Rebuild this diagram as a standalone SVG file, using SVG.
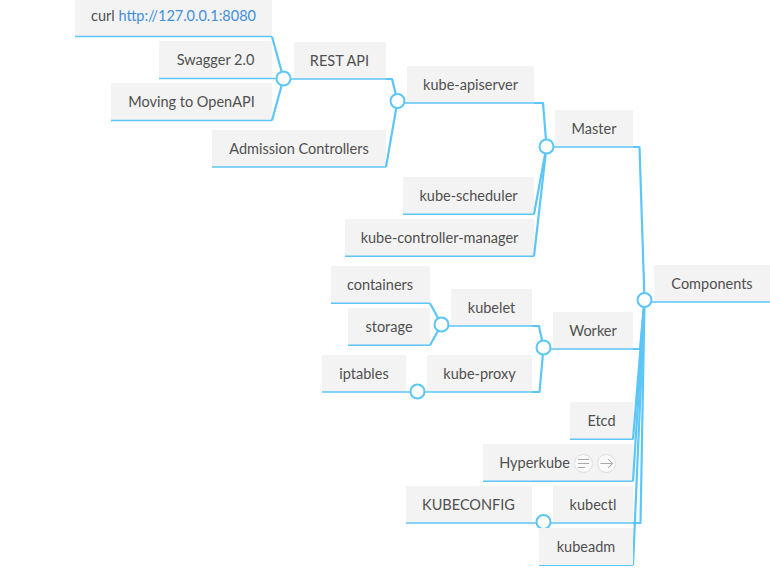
<svg xmlns="http://www.w3.org/2000/svg" width="770" height="568" viewBox="0 0 770 568">
<style>
rect.b{fill:#f3f3f3}
text{font-family:"Lato","Open Sans","Liberation Sans",sans-serif;font-size:14.5px;fill:#505050;text-anchor:middle}
.c path{fill:none;stroke:#5cc6f7;stroke-width:1.5;stroke-linejoin:round}
.c path.s{stroke-width:2.2}
.k{fill:#fff;stroke:#5cc6f7;stroke-width:2}
.i{fill:#fafafa;stroke:#dedede;stroke-width:1}
.g{fill:none;stroke:#a8a8a8;stroke-width:1}
</style>
<g id="node-curl"><rect class="b" x="75" y="0" width="197" height="36"/><text x="173.500" y="21">curl <tspan fill="#3f8fdc">http://127.0.0.1:8080</tspan></text></g>
<g id="node-swagger"><rect class="b" x="159" y="41" width="113" height="37"/><text x="215.500" y="65">Swagger 2.0</text></g>
<g id="node-openapi"><rect class="b" x="111" y="83" width="161" height="37"/><text x="191.500" y="107">Moving to OpenAPI</text></g>
<g id="node-restapi"><rect class="b" x="294" y="42" width="92" height="37"/><text x="339.500" y="66">REST API</text></g>
<g id="node-admission"><rect class="b" x="212" y="130" width="174" height="37"/><text x="299" y="154">Admission Controllers</text></g>
<g id="node-apiserver"><rect class="b" x="407" y="66" width="127" height="37"/><text x="470.500" y="90">kube-apiserver</text></g>
<g id="node-master"><rect class="b" x="555" y="110" width="78" height="37"/><text x="594" y="134">Master</text></g>
<g id="node-scheduler"><rect class="b" x="403" y="177" width="131" height="37"/><text x="468.500" y="201">kube-scheduler</text></g>
<g id="node-controller"><rect class="b" x="345" y="219" width="189" height="37"/><text x="439.500" y="243">kube-controller-manager</text></g>
<g id="node-components"><rect class="b" x="654" y="265" width="116" height="37"/><text x="712" y="289">Components</text></g>
<g id="node-containers"><rect class="b" x="331" y="266" width="99" height="37"/><text x="380" y="290">containers</text></g>
<g id="node-storage"><rect class="b" x="348" y="308" width="82" height="37"/><text x="389" y="332">storage</text></g>
<g id="node-kubelet"><rect class="b" x="451" y="289" width="81" height="37"/><text x="491.500" y="313">kubelet</text></g>
<g id="node-worker"><rect class="b" x="553" y="312" width="80" height="37"/><text x="593" y="336">Worker</text></g>
<g id="node-iptables"><rect class="b" x="322" y="355" width="84" height="37"/><text x="364" y="379">iptables</text></g>
<g id="node-proxy"><rect class="b" x="427" y="355" width="105" height="37"/><text x="479.500" y="379">kube-proxy</text></g>
<g id="node-etcd"><rect class="b" x="570" y="402" width="63" height="37"/><text x="601.500" y="426">Etcd</text></g>
<g id="node-hyperkube"><rect class="b" x="483" y="444" width="150" height="37"/><text x="534.500" y="468">Hyperkube</text>
<circle class="i" cx="583.500" cy="463.500" r="9"/><path class="g" d="M578 459.500h11M578 463.500h11M578 467.500h7"/>
<circle class="i" cx="606.500" cy="463.500" r="9"/><path class="g" d="M600.500 463.500h12M608 459l4.500 4.500-4.500 4.500"/></g>
<g id="node-kubeconfig"><rect class="b" x="406" y="486" width="126" height="37"/><text x="468.500" y="510">KUBECONFIG</text></g>
<g id="node-kubectl"><rect class="b" x="553" y="486" width="80" height="37"/><text x="593" y="510">kubectl</text></g>
<g id="connectors" class="c">
<path d="M75 36.500H272"/><path class="s" d="M272 36.500L283.500 78.500"/>
<path d="M159 78.500H283.500"/>
<path d="M111 120.500H272"/><path class="s" d="M272 120.500L283.500 78.500"/>
<path d="M283.500 79H386"/><path class="s" d="M386 79H392L397.500 101"/>
<path d="M212 167H386"/><path class="s" d="M386 167L397.500 101"/>
<path d="M397.500 103H534"/><path class="s" d="M534 103H543L546.500 146.500"/>
<path d="M403 214.300H534"/><path class="s" d="M534 214.300L546.500 146.500"/>
<path d="M345 256.300H534"/><path class="s" d="M534 256.300L546.500 146.500"/>
<path d="M546.500 147H633"/><path class="s" d="M633 147H639.500L644.500 300"/>
<path d="M644.500 302H770"/>
<path d="M331 303.300H430"/><path class="s" d="M430 303.300L441.500 324.500"/>
<path d="M348 345.300H430"/><path class="s" d="M430 345.300L441.500 324.500"/>
<path d="M441.500 326H532"/><path class="s" d="M532 326H539L543.500 347.500"/>
<path d="M543.500 349H633"/><path class="s" d="M633 349H640L644.500 300"/>
<path d="M322 392H532"/><path class="s" d="M532 392H539.500L543.500 347.500"/>
<path d="M570 439.300H633"/><path class="s" d="M633 439.300L644.500 300"/>
<path d="M483 481.300H633"/><path class="s" d="M633 481.300L644.500 300"/>
<path d="M406 523H633"/><path class="s" d="M633 523H640.500L644.500 300"/>
<path d="M539 565.300H633"/><path class="s" d="M633 565.300L644.500 300"/>
</g>
<g id="junctions">
<circle class="k" cx="283.500" cy="78.500" r="7"/>
<circle class="k" cx="397.500" cy="101" r="7"/>
<circle class="k" cx="546.500" cy="146.500" r="7"/>
<circle class="k" cx="644.500" cy="300" r="7"/>
<circle class="k" cx="441.500" cy="324.500" r="7"/>
<circle class="k" cx="543.500" cy="347.500" r="7"/>
<circle class="k" cx="417.500" cy="391.500" r="7"/>
<circle class="k" cx="543.500" cy="522" r="7"/>
</g>
<g id="node-kubeadm"><rect class="b" x="539" y="528" width="94" height="37"/><text x="586" y="552">kubeadm</text></g>
</svg>
